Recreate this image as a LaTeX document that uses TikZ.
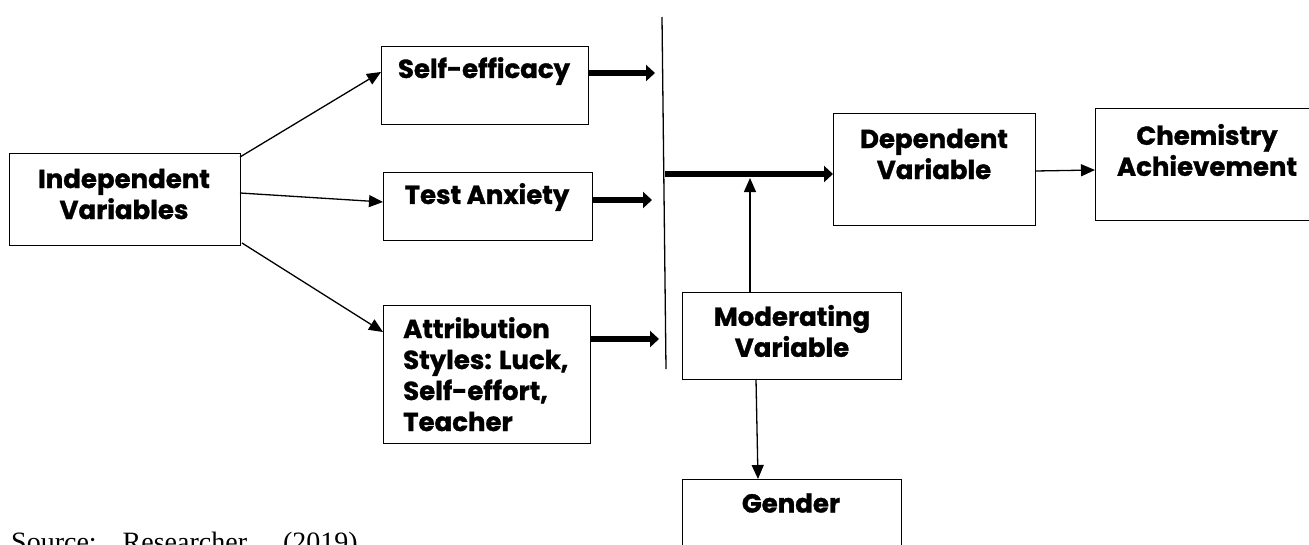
\documentclass[tikz,border=0pt]{standalone}
\usepackage{fontspec}
\setmainfont{Poppins}[BoldFeatures={FakeBold=1.2}]
\newfontfamily\srcfont{Liberation Serif}
\usetikzlibrary{arrows.meta}
\begin{document}
\begin{tikzpicture}[x=1pt,y=-1pt,
  box/.style={draw, line width=1.3pt, rectangle, inner sep=0pt, anchor=north west},
  txt/.style={font=\fontsize{26}{31}\selectfont\bfseries, align=center, inner sep=0pt},
  thinarrow/.style={line width=1.3pt, -{Triangle[length=14pt,width=12pt]}},
  thickarrow/.style={line width=6pt, -{Triangle[length=9pt,width=16pt]}},
  plainline/.style={line width=1.3pt},
]
\useasboundingbox (0,0) rectangle (1309,544);
% boxes
\node[box, minimum width=231, minimum height=92] (iv) at (9,153) {};
\node[box, minimum width=207, minimum height=78] (se) at (381,46) {};
\node[box, minimum width=209, minimum height=68] (ta) at (383,172) {};
\node[box, minimum width=207, minimum height=138] (at) at (383,305) {};
\node[box, minimum width=202, minimum height=112] (dv) at (833,113) {};
\node[box, minimum width=214, minimum height=112] (ca) at (1095,108) {};
\node[box, minimum width=219, minimum height=87] (mv) at (682,292) {};
\node[box, minimum width=219, minimum height=90] (gd) at (682,479) {};
% texts
\node[txt] (ivt) at (124,194) {Independent\\Variables};
\node[txt] (set) at (484,71) {Self-efficacy};
\node[txt] (tat) at (487,197) {Test Anxiety};
\node[txt, align=left, anchor=north west] (att) at (403,317) {Attribution\\Styles: Luck,\\Self-effort,\\Teacher};
\node[txt] (dvt) at (934,154) {Dependent\\Variable};
\node[txt] (cat) at (1207,150) {Chemistry\\Achievement};
\node[txt] (mvt) at (792,331) {Moderating\\Variable};
\node[txt] (gdt) at (791,503) {Gender};
% source
\node[anchor=base west, inner sep=0pt, font=\srcfont\fontsize{28}{28}\selectfont] (src) at (11,551) {Source:\hspace{26pt}Researcher\hspace{36pt}(2019)};
% vertical line
\coordinate (vtop) at (662,17);
\coordinate (vbot) at (666,369);
\draw[plainline] (vtop) -- (vbot);
% thin arrows from independent
\draw[thinarrow] (240,157) -- (381,72);
\draw[thinarrow] (240,193) -- (383,202);
\draw[thinarrow] (242,243) -- (383,332);
% thick arrows to the line
\coordinate (e1) at (655,73);
\coordinate (e2) at (652,200);
\coordinate (e3) at (659,339);
\draw[thickarrow] (se.east |- e1) -- (e1);
\draw[thickarrow] (ta.east |- e2) -- (e2);
\draw[thickarrow] (at.east |- e3) -- (e3);
% main bar
\coordinate (b0) at (665,174);
\draw[thickarrow] (b0) -- (b0 -| dv.west);
% moderating arrows
\coordinate (up) at (750,178);
\draw[thinarrow] (up |- mv.north) -- (up);
\draw[thinarrow] (756,379) -- (758,479);
% dependent -> chemistry
\draw[thinarrow] (1035,171) -- (1095,170);
\end{tikzpicture}
\end{document}
